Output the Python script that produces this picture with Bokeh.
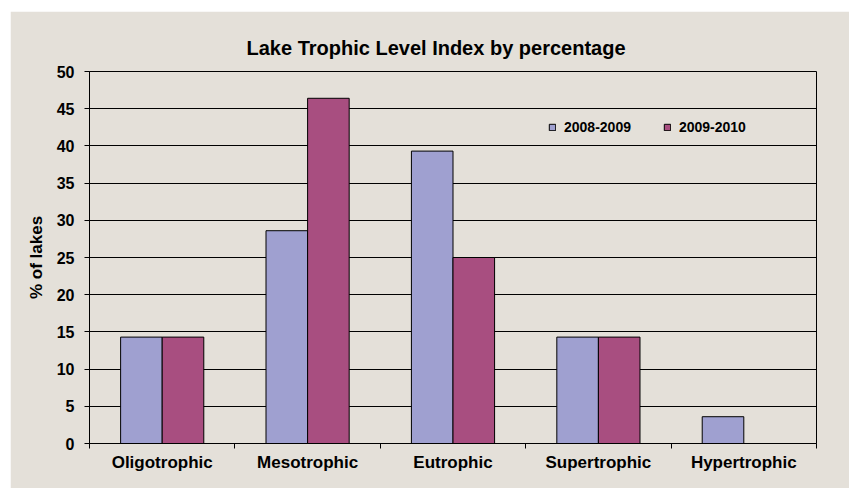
import numpy as np
from bokeh.plotting import figure
from bokeh.models import FixedTicker, Range1d, Legend, LegendItem, ColumnDataSource
from bokeh.transform import dodge
from bokeh.embed import file_html
from bokeh.resources import INLINE

categories = ["Oligotrophic", "Mesotrophic", "Eutrophic", "Supertrophic", "Hypertrophic"]
series_names = ["2008-2009", "2009-2010"]
values_2008_2009 = [14.3, 28.6, 39.3, 14.3, 3.6]
values_2009_2010 = [14.3, 46.4, 25.0, 14.3, 0.0]
y_ticks = [0, 5, 10, 15, 20, 25, 30, 35, 40, 45, 50]
title_text = "Lake Trophic Level Index by percentage"
y_label = "% of lakes"

FONT = "Liberation Sans"
BG = "#E4E0D9"
BLUE = "#9FA0D0"
MAGENTA = "#A84E80"

idx = np.arange(len(categories))
centers = (idx + 0.5).tolist()
bounds = np.arange(len(categories) + 1).tolist()

source = ColumnDataSource(dict(x=centers, a=values_2008_2009, b=values_2009_2010))

p = figure(width=839, height=477,
           x_range=Range1d(0, len(categories)), y_range=Range1d(y_ticks[0], y_ticks[-1]),
           output_backend="svg", toolbar_location=None,
           min_border_left=79, min_border_right=33, min_border_top=60, min_border_bottom=45)
p.margin = (11, 0, 0, 10)
p.background_fill_color = BG
p.border_fill_color = BG
p.outline_line_color = "black"
p.outline_line_width = 1

bw = 0.286
r1 = p.vbar(x=dodge("x", -bw / 2), top="a", width=bw, source=source,
            fill_color=BLUE, line_color="black", line_width=1)
r2 = p.vbar(x=dodge("x", bw / 2), top="b", width=bw, source=source,
            fill_color=MAGENTA, line_color="black", line_width=1)

# title
p.title.text = title_text
p.title.text_font = FONT
p.title.text_font_size = "20px"
p.title.text_font_style = "bold"
p.title.align = "left"
p.title.offset = 157
p.title.standoff = 26
p.title.text_color = "black"

# x axis
xa = p.xaxis[0]
xa.ticker = FixedTicker(ticks=centers, minor_ticks=bounds)
xa.major_label_overrides = {float(c): name for c, name in zip(centers, categories)}
xa.major_tick_line_color = None
xa.minor_tick_line_color = "black"
xa.minor_tick_out = 5
xa.minor_tick_in = 0
xa.axis_line_color = "black"
xa.major_label_text_font = FONT
xa.major_label_text_font_size = "17px"
xa.major_label_text_font_style = "bold"
xa.major_label_text_color = "black"
xa.major_label_standoff = 3
p.xgrid.grid_line_color = None

# y axis
ya = p.yaxis[0]
ya.ticker = FixedTicker(ticks=y_ticks)
ya.major_tick_out = 5
ya.major_tick_in = 0
ya.major_tick_line_color = "black"
ya.minor_tick_line_color = None
ya.axis_line_color = "black"
ya.major_label_text_font = FONT
ya.major_label_text_font_size = "16px"
ya.major_label_text_font_style = "bold"
ya.major_label_text_color = "black"
ya.major_label_standoff = 10
ya.axis_label = y_label
ya.axis_label_text_font = FONT
ya.axis_label_text_font_size = "17px"
ya.axis_label_text_font_style = "bold"
ya.axis_label_text_color = "black"
ya.axis_label_standoff = 8
p.ygrid.grid_line_color = "black"
p.ygrid.grid_line_width = 1
p.ygrid.ticker = FixedTicker(ticks=y_ticks)

legend = Legend(items=[LegendItem(label=series_names[0], renderers=[r1]),
                       LegendItem(label=series_names[1], renderers=[r2])],
                orientation="horizontal", location=(459, 308),
                border_line_color=None, background_fill_alpha=0,
                glyph_width=8, glyph_height=8, label_standoff=8, spacing=32,
                padding=0, margin=0,
                label_text_font=FONT, label_text_font_size="14px",
                label_text_font_style="bold", label_text_color="black")
p.add_layout(legend)

open("out.html", "w").write(file_html(p, INLINE))
